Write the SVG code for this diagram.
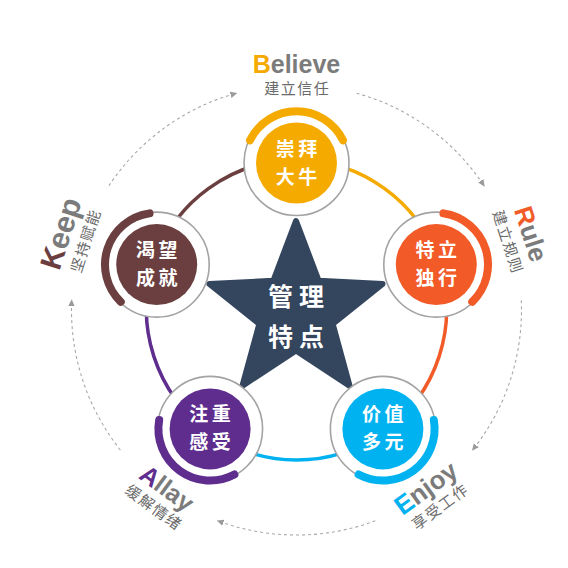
<svg xmlns="http://www.w3.org/2000/svg" width="568" height="568" viewBox="0 0 568 568">
<defs>
<marker id="arr" viewBox="0 0 8 8" refX="6" refY="4" markerWidth="8" markerHeight="8" markerUnits="userSpaceOnUse" orient="auto">
<path d="M0,0.8 L7,4 L0,7.2 Z" fill="#9a9a9a"/>
</marker>
<style>
.dash{fill:none;stroke:#a8a8a8;stroke-width:1.1;stroke-dasharray:3 3;}
.link{fill:none;stroke-width:3.5;}
.ring{fill:#fff;stroke:#a3a3a3;stroke-width:1.6;}
.cap{fill:none;stroke-width:8;stroke-linecap:round;}
.nt{font-family:"Noto Sans CJK SC","Noto Sans",sans-serif;font-weight:700;font-size:19px;fill:#fff;text-anchor:middle;letter-spacing:3.5px;}
.st{font-family:"Noto Sans CJK SC","Noto Sans",sans-serif;font-weight:700;font-size:25px;fill:#fff;text-anchor:middle;letter-spacing:6px;}
.en{font-family:"Liberation Sans",Arial,sans-serif;font-weight:700;font-size:25px;fill:#7b7b7b;text-anchor:middle;}
.cn{font-family:"Noto Sans CJK SC","Noto Sans",sans-serif;font-size:15px;fill:#6a6a6a;text-anchor:middle;letter-spacing:1.5px;}
</style>
</defs>
<rect width="568" height="568" fill="#fff"/>

<g id="connectors">
<path class="dash" marker-end="url(#arr)" d="M356.62,93.19 A225,225 0 0 1 484.13,185.82"/>
<path class="dash" marker-end="url(#arr)" d="M521.29,300.19 A225,225 0 0 1 472.59,450.06"/>
<path class="dash" marker-end="url(#arr)" d="M375.30,520.76 A225,225 0 0 1 217.70,520.76"/>
<path class="dash" marker-end="url(#arr)" d="M120.41,450.06 A225,225 0 0 1 71.71,300.19"/>
<path class="dash" marker-end="url(#arr)" d="M108.87,185.82 A225,225 0 0 1 236.38,93.19"/>
<path class="link" stroke="#F5AA00" d="M296.5,160 A150,150 0 0 1 439.16,263.65"/>
<path class="link" stroke="#F25A28" d="M439.16,263.65 A150,150 0 0 1 384.67,431.35"/>
<path class="link" stroke="#00B2F0" d="M384.67,431.35 A150,150 0 0 1 208.33,431.35"/>
<path class="link" stroke="#5E2D8E" d="M208.33,431.35 A150,150 0 0 1 153.84,263.65"/>
<path class="link" stroke="#6B3F3F" d="M153.84,263.65 A150,150 0 0 1 296.5,160"/>
</g>

<g id="center-star">
<polygon points="296,221 318.63,280.85 382.55,283.88 332.62,323.9 349.49,385.62 296,350.5 242.51,385.62 259.38,323.9 209.45,283.88 273.37,280.85" fill="#34455E" stroke="#34455E" stroke-width="6" stroke-linejoin="round"/>
<text class="st"><tspan x="299" y="306">管理</tspan><tspan x="299" y="345.5">特点</tspan></text>
</g>

<g id="node-top" transform="translate(296.5,163)">
<circle class="ring" r="52.5"/>
<circle r="40.5" fill="#F5AA00"/>
<path class="cap" stroke="#F5AA00" d="M-46.47,-22.66 A51.7,51.7 0 0 1 46.47,-22.66"/>
<text class="nt"><tspan x="1.7" y="-7.5">崇拜</tspan><tspan x="1.7" y="20.5">大牛</tspan></text>
</g>

<g id="node-right" transform="translate(436.3,264.6)">
<circle class="ring" r="52.5"/>
<circle r="40.5" fill="#F25A28"/>
<path class="cap" stroke="#F25A28" d="M7.2,-51.2 A51.7,51.7 0 0 1 35.92,37.19"/>
<text class="nt"><tspan x="1.7" y="-7.5">特立</tspan><tspan x="1.7" y="20.5">独行</tspan></text>
</g>

<g id="node-bottom-right" transform="translate(382.9,428.9)">
<circle class="ring" r="52.5"/>
<circle r="40.5" fill="#00B2F0"/>
<path class="cap" stroke="#00B2F0" d="M50.91,-8.98 A51.7,51.7 0 0 1 -24.27,45.65"/>
<text class="nt"><tspan x="1.7" y="-7.5">价值</tspan><tspan x="1.7" y="20.5">多元</tspan></text>
</g>

<g id="node-bottom-left" transform="translate(210.1,428.9)">
<circle class="ring" r="52.5"/>
<circle r="40.5" fill="#5E2D8E"/>
<path class="cap" stroke="#5E2D8E" d="M24.27,45.65 A51.7,51.7 0 0 1 -50.91,-8.98"/>
<text class="nt"><tspan x="1.7" y="-7.5">注重</tspan><tspan x="1.7" y="20.5">感受</tspan></text>
</g>

<g id="node-left" transform="translate(156.7,264.6)">
<circle class="ring" r="52.5"/>
<circle r="40.5" fill="#6B3F3F"/>
<path class="cap" stroke="#6B3F3F" d="M-35.92,37.19 A51.7,51.7 0 0 1 -7.2,-51.2"/>
<text class="nt"><tspan x="1.7" y="-7.5">渴望</tspan><tspan x="1.7" y="20.5">成就</tspan></text>
</g>

<g id="label-believe">
<text class="en" x="296.5" y="72.5"><tspan fill="#F5AA00">B</tspan>elieve</text>
<text class="cn" x="297.3" y="93.5">建立信任</text>
</g>
<g id="label-rule" transform="rotate(72 296.5 310)">
<text class="en" x="296.5" y="72.5" style="font-size:26px"><tspan fill="#F25A28">R</tspan>ule</text>
<text class="cn" x="297.3" y="93.5">建立规则</text>
</g>
<g id="label-enjoy" transform="rotate(-36 296.5 310)">
<text class="en" x="296.5" y="539" style="font-size:26px"><tspan fill="#00B2F0">E</tspan>njoy</text>
<text class="cn" x="297.3" y="559">享受工作</text>
</g>
<g id="label-allay" transform="rotate(36 296.5 310)">
<text class="en" x="296.5" y="539" style="font-size:25px"><tspan fill="#5E2D8E">A</tspan>llay</text>
<text class="cn" x="297.3" y="559">缓解情绪</text>
</g>
<g id="label-keep" transform="rotate(-72 296.5 310)">
<text class="en" x="296.5" y="72.5" style="font-size:30px"><tspan fill="#6B3F3F">K</tspan>eep</text>
<text class="cn" x="297.3" y="93.5">坚持赋能</text>
</g>
</svg>
